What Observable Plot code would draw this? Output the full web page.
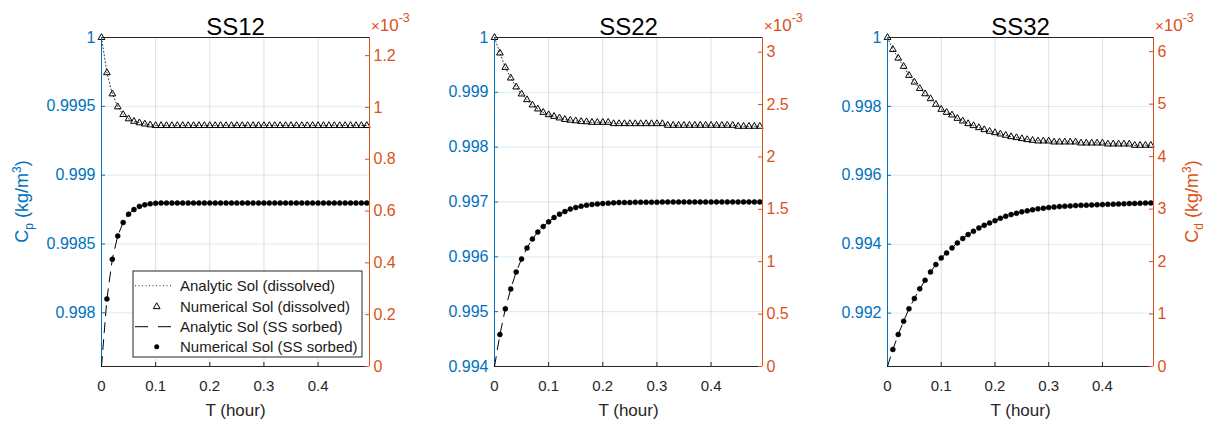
<!DOCTYPE html>
<html>
<head>
<meta charset="utf-8">
<script src="https://cdn.jsdelivr.net/npm/d3@7"></script>
<script src="https://cdn.jsdelivr.net/npm/@observablehq/plot@0.6"></script>
<style>
  html, body { margin: 0; padding: 0; background: #fff; }
  #root { position: relative; width: 1213px; height: 425px; overflow: hidden; background: #fff;
          font-family: "Liberation Sans", Arial, Helvetica, sans-serif; }
  #root > svg { position: absolute; left: 0; top: 0; }
</style>
</head>
<body>
<div id="root"></div>
<script>
// ---------- data ----------
const time = [0, 0.01, 0.02, 0.03, 0.04, 0.05, 0.06, 0.07, 0.08, 0.09,
  0.10, 0.11, 0.12, 0.13, 0.14, 0.15, 0.16, 0.17, 0.18, 0.19,
  0.20, 0.21, 0.22, 0.23, 0.24, 0.25, 0.26, 0.27, 0.28, 0.29,
  0.30, 0.31, 0.32, 0.33, 0.34, 0.35, 0.36, 0.37, 0.38, 0.39,
  0.40, 0.41, 0.42, 0.43, 0.44, 0.45, 0.46, 0.47, 0.48, 0.49];

// dissolved concentration Cp (kg/m3), left axis
const ss12Dissolved = [1, 0.999744, 0.99959, 0.999496, 0.99944, 0.999409, 0.999391, 0.99938, 0.999371, 0.999365,
  0.99936, 0.99936, 0.99936, 0.99936, 0.99936, 0.99936, 0.99936, 0.99936, 0.99936, 0.99936,
  0.99936, 0.99936, 0.99936, 0.99936, 0.99936, 0.99936, 0.99936, 0.99936, 0.99936, 0.99936,
  0.99936, 0.99936, 0.99936, 0.99936, 0.99936, 0.99936, 0.99936, 0.99936, 0.99936, 0.99936,
  0.99936, 0.99936, 0.99936, 0.99936, 0.99936, 0.99936, 0.99936, 0.99936, 0.99936, 0.99936];
const ss22Dissolved = [1, 0.999716, 0.999454, 0.99926, 0.999097, 0.998969, 0.998865, 0.998769, 0.998696, 0.998634,
  0.998592, 0.998561, 0.998532, 0.998505, 0.99849, 0.99848, 0.998468, 0.998462, 0.998452, 0.998452,
  0.998452, 0.998452, 0.998428, 0.998428, 0.998428, 0.998428, 0.998428, 0.998428, 0.998428, 0.998428,
  0.998428, 0.998428, 0.998398, 0.998398, 0.998398, 0.998398, 0.998398, 0.998398, 0.998398, 0.998398,
  0.998398, 0.998398, 0.998398, 0.998398, 0.998398, 0.99838, 0.99838, 0.99838, 0.99838, 0.99838];
const ss32Dissolved = [1, 0.999652, 0.9994, 0.99916, 0.9989, 0.998705, 0.99852, 0.998365, 0.998222, 0.998058,
  0.997913, 0.997826, 0.99775, 0.997652, 0.997575, 0.997498, 0.99744, 0.997382, 0.997324, 0.997275,
  0.997236, 0.997198, 0.99716, 0.99712, 0.997092, 0.997063, 0.997034, 0.997014, 0.996995, 0.996995,
  0.996995, 0.996966, 0.996966, 0.996966, 0.996966, 0.996966, 0.996936, 0.996936, 0.996936, 0.996936,
  0.996936, 0.996907, 0.996907, 0.996907, 0.996907, 0.996907, 0.99687, 0.99687, 0.99687, 0.99687];

// SS-sorbed concentration Cd (x10^-3 kg/m3), right axis
const ss12Sorbed = [0, 0.261, 0.414, 0.504, 0.556, 0.588, 0.606, 0.618, 0.624, 0.628,
  0.63, 0.631, 0.631, 0.631, 0.631, 0.631, 0.631, 0.631, 0.631, 0.631,
  0.631, 0.631, 0.631, 0.631, 0.631, 0.631, 0.631, 0.631, 0.631, 0.631,
  0.631, 0.631, 0.631, 0.631, 0.631, 0.631, 0.631, 0.631, 0.631, 0.631,
  0.631, 0.631, 0.631, 0.631, 0.631, 0.631, 0.631, 0.631, 0.631, 0.631];
const ss22Sorbed = [0, 0.305, 0.55, 0.74, 0.902, 1.026, 1.13, 1.216, 1.283, 1.336,
  1.381, 1.422, 1.454, 1.479, 1.502, 1.517, 1.53, 1.54, 1.546, 1.552,
  1.555, 1.559, 1.562, 1.565, 1.565, 1.565, 1.568, 1.568, 1.568, 1.568,
  1.568, 1.57, 1.57, 1.57, 1.57, 1.57, 1.57, 1.57, 1.57, 1.57,
  1.57, 1.571, 1.571, 1.571, 1.571, 1.571, 1.571, 1.571, 1.571, 1.571];
const ss32Sorbed = [0, 0.324, 0.61, 0.863, 1.1, 1.295, 1.48, 1.644, 1.803, 1.943,
  2.07, 2.165, 2.26, 2.356, 2.438, 2.514, 2.577, 2.64, 2.69, 2.737,
  2.78, 2.825, 2.863, 2.895, 2.92, 2.947, 2.966, 2.985, 3.004, 3.015,
  3.029, 3.038, 3.048, 3.055, 3.061, 3.067, 3.071, 3.075, 3.079, 3.083,
  3.086, 3.09, 3.094, 3.098, 3.101, 3.105, 3.108, 3.111, 3.114, 3.117];

// titles, axis domains and tick values
const titles = ["SS12", "SS22", "SS32"];
const xDomain = [0, 0.495];
const xTicks = [0, 0.1, 0.2, 0.3, 0.4];
const leftDomains = [[0.99761, 1], [0.994, 1], [0.99045, 1]];
const leftTicks = [
  [0.998, 0.9985, 0.999, 0.9995, 1],
  [0.994, 0.995, 0.996, 0.997, 0.998, 0.999, 1],
  [0.992, 0.994, 0.996, 0.998, 1]
];
const rightDomains = [[0, 1.27], [0, 3.14], [0, 6.27]];
const rightTicks = [
  [0, 0.2, 0.4, 0.6, 0.8, 1, 1.2],
  [0, 0.5, 1, 1.5, 2, 2.5, 3],
  [0, 1, 2, 3, 4, 5, 6]
];
const xLabel = "T (hour)";
const legendLabels = ["Analytic Sol (dissolved)", "Numerical Sol (dissolved)",
                      "Analytic Sol (SS sorbed)", "Numerical Sol (SS sorbed)"];

// ---------- layout / style ----------
const W = 1213, H = 425;
const TOP = 37, BOTTOM = 366;
const frames = [[101, 369], [494, 762], [887, 1153]];
const BLUE = "#0072BD", ORANGE = "#D95319", AX = "#262626";
const FONT = "'Liberation Sans', Arial, Helvetica, sans-serif";
const fmt = d3.format("~g");

const dissolvedSeries = [ss12Dissolved, ss22Dissolved, ss32Dissolved];
const sorbedSeries = [ss12Sorbed, ss22Sorbed, ss32Sorbed];

const root = document.getElementById("root");

function base(i) {
  const [l, r] = frames[i];
  return {
    width: W, height: H,
    marginLeft: l, marginRight: W - r, marginTop: TOP, marginBottom: H - BOTTOM,
    style: { background: "transparent", fontFamily: FONT, overflow: "visible" }
  };
}

for (let i = 0; i < 3; i++) {
  const [l, r] = frames[i];
  const fw = r - l, fh = BOTTOM - TOP;
  const dData = time.map((t, k) => ({ t, c: dissolvedSeries[i][k] }));
  const sData = time.map((t, k) => ({ t, s: sorbedSeries[i][k] }));

  const left = Plot.plot({
    ...base(i),
    x: { domain: xDomain },
    y: { domain: leftDomains[i] },
    marks: [
      Plot.gridX(xTicks, { stroke: AX, strokeOpacity: 0.15 }),
      Plot.gridY(leftTicks[i], { stroke: BLUE, strokeOpacity: 0.15 }),
      Plot.ruleX(xTicks, { stroke: AX, insetTop: fh - 4 }),
      Plot.ruleY(leftTicks[i], { stroke: BLUE, insetRight: fw - 4 }),
      Plot.axisX(xTicks, { tickSize: 0, tickPadding: 14, fontSize: 15, color: AX, tickFormat: fmt, label: null }),
      Plot.axisY(leftTicks[i], { anchor: "left", tickSize: 0, tickPadding: 6, fontSize: 16, color: BLUE, tickFormat: fmt, label: null }),
      Plot.line(dData, { x: "t", y: "c", stroke: "#333", strokeWidth: 1, strokeDasharray: "1 2.5" }),
      Plot.dot(dData, { x: "t", y: "c", symbol: "triangle", r: 2.5, stroke: "black", strokeWidth: 1, fill: "none" }),
      Plot.ruleY([leftDomains[i][1]], { stroke: AX }),
      Plot.ruleY([leftDomains[i][0]], { stroke: AX }),
      Plot.ruleX([xDomain[0]], { stroke: BLUE }),
      Plot.text([titles[i]], { text: d => d, frameAnchor: "top", dy: -20, fontSize: 24, fill: "#000" }),
      Plot.text([xLabel], { text: d => d, frameAnchor: "bottom", dy: 49, fontSize: 17, fill: AX })
    ]
  });
  root.appendChild(left);

  const right = Plot.plot({
    ...base(i),
    x: { domain: xDomain, axis: null },
    y: { domain: rightDomains[i] },
    marks: [
      Plot.ruleY(rightTicks[i], { stroke: ORANGE, insetLeft: fw - 4 }),
      Plot.axisY(rightTicks[i], { anchor: "right", tickSize: 0, tickPadding: 4, fontSize: 16, color: ORANGE, tickFormat: fmt, label: null }),
      Plot.line(sData, { x: "t", y: "s", stroke: "black", strokeWidth: 1, strokeDasharray: "10 7" }),
      Plot.dot(sData.filter(d => d.t > 0), { x: "t", y: "s", r: 2.5, fill: "black", stroke: "black", strokeWidth: 0.5 }),
      Plot.ruleX([xDomain[1]], { stroke: ORANGE })
    ]
  });
  root.appendChild(right);
}

// ---------- overlay: exponent labels, axis titles with sub/superscripts, legend ----------
const ov = d3.create("svg").attr("width", W).attr("height", H)
  .style("font-family", FONT).style("overflow", "visible");

frames.forEach(([l, r]) => {
  const t = ov.append("text").attr("x", r + 2).attr("y", 31).attr("fill", ORANGE).attr("font-size", 17);
  t.append("tspan").attr("font-size", 15).text("\u00d7");
  t.append("tspan").text("10");
  t.append("tspan").attr("dy", -9).attr("font-size", 12.5).text("-3");
});

function yLabel(x, color, sub) {
  const t = ov.append("text")
    .attr("transform", `translate(${x},${(TOP + BOTTOM) / 2}) rotate(-90)`)
    .attr("text-anchor", "middle").attr("fill", color).attr("font-size", 18);
  t.append("tspan").text("C");
  t.append("tspan").attr("font-size", 12).attr("dy", 5).text(sub);
  t.append("tspan").attr("dy", -5).text(" (kg/m");
  t.append("tspan").attr("font-size", 12).attr("dy", -7).text("3");
  t.append("tspan").attr("dy", 7).text(")");
}
yLabel(28, BLUE, "p");
yLabel(1198, ORANGE, "d");

// legend in first panel
const lg = ov.append("g").attr("transform", "translate(133,271)");
lg.append("rect").attr("width", 229).attr("height", 86).attr("fill", "white").attr("stroke", AX).attr("stroke-width", 1);
const rowsY = [14.7, 35.7, 55.7, 75.7];
lg.append("line").attr("x1", 2).attr("x2", 40).attr("y1", rowsY[0]).attr("y2", rowsY[0])
  .attr("stroke", "#333").attr("stroke-dasharray", "1 2.5");
lg.append("path").attr("d", d3.symbol(d3.symbolTriangle, 2.5 * 2.5 * Math.PI)())
  .attr("transform", `translate(23.7,${rowsY[1]})`).attr("fill", "none").attr("stroke", "black");
lg.append("line").attr("x1", 2).attr("x2", 40).attr("y1", rowsY[2]).attr("y2", rowsY[2])
  .attr("stroke", "black").attr("stroke-dasharray", "13 10");
lg.append("circle").attr("cx", 23.7).attr("cy", rowsY[3]).attr("r", 2.5).attr("fill", "black");
legendLabels.forEach((s, k) => {
  lg.append("text").attr("x", 47).attr("y", rowsY[k]).attr("dy", "0.35em")
    .attr("font-size", 15).attr("fill", "#1a1a1a").text(s);
});

root.appendChild(ov.node());
</script>
</body>
</html>
